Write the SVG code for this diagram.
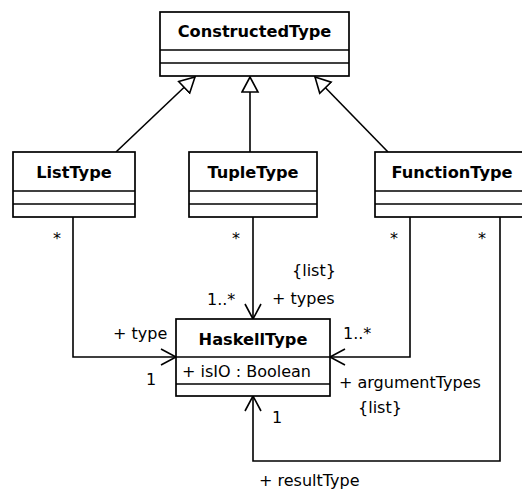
<svg xmlns="http://www.w3.org/2000/svg" width="522" height="491" viewBox="0 0 522 491">
<style>
.box{fill:#fff;stroke:#000;stroke-width:1.7}
.sep{stroke:#000;stroke-width:1.7}
.name{font-family:"DejaVu Sans",Verdana,sans-serif;font-weight:bold;font-size:16.2px;text-anchor:middle;fill:#000}
.lbl{font-family:"DejaVu Sans",Verdana,sans-serif;font-size:16px;fill:#000}
.con{fill:none;stroke:#000;stroke-width:1.6}
</style>
<defs>
<marker id="gen" markerWidth="20" markerHeight="20" refX="16" refY="9" orient="auto" markerUnits="userSpaceOnUse">
<path d="M1,1 L16,9 L1,17 Z" fill="#fff" stroke="#000" stroke-width="1.6"/>
</marker>
<marker id="open" markerWidth="20" markerHeight="20" refX="16" refY="9" orient="auto" markerUnits="userSpaceOnUse">
<path d="M1,1 L16,9 L1,17" fill="none" stroke="#000" stroke-width="1.6"/>
</marker>
</defs>
<g id="connectors">
<path class="con" d="M116,152 L195,77" marker-end="url(#gen)"/>
<path class="con" d="M250,152 L250,77" marker-end="url(#gen)"/>
<path class="con" d="M388,152 L315,77" marker-end="url(#gen)"/>
<path class="con" d="M73,217 L73,357 L176,357" marker-end="url(#open)"/>
<path class="con" d="M253,217 L253,319" marker-end="url(#open)"/>
<path class="con" d="M410,217 L410,357 L330,357" marker-end="url(#open)"/>
<path class="con" d="M500,217 L500,461 L253,461 L253,396" marker-end="url(#open)"/>
</g>
<g id="ConstructedType">
<rect class="box" x="160" y="12" width="189" height="64"/>
<line class="sep" x1="160" y1="50" x2="349" y2="50"/>
<line class="sep" x1="160" y1="63" x2="349" y2="63"/>
<text class="name" x="254.5" y="37">ConstructedType</text>
</g>
<g id="ListType">
<rect class="box" x="13" y="152" width="122" height="65"/>
<line class="sep" x1="13" y1="191" x2="135" y2="191"/>
<line class="sep" x1="13" y1="204" x2="135" y2="204"/>
<text class="name" x="74" y="178">ListType</text>
</g>
<g id="TupleType">
<rect class="box" x="189" y="152" width="128" height="65"/>
<line class="sep" x1="189" y1="191" x2="317" y2="191"/>
<line class="sep" x1="189" y1="204" x2="317" y2="204"/>
<text class="name" x="253" y="178">TupleType</text>
</g>
<g id="FunctionType">
<rect class="box" x="375" y="152" width="154" height="65"/>
<line class="sep" x1="375" y1="191" x2="529" y2="191"/>
<line class="sep" x1="375" y1="204" x2="529" y2="204"/>
<text class="name" x="452" y="178">FunctionType</text>
</g>
<g id="HaskellType">
<rect class="box" x="176" y="319" width="154" height="77"/>
<line class="sep" x1="176" y1="357" x2="330" y2="357"/>
<line class="sep" x1="176" y1="384" x2="330" y2="384"/>
<text class="name" x="253" y="345">HaskellType</text>
<text class="lbl" x="182" y="377">+ isIO : Boolean</text>
</g>
<g id="labels">
<text class="lbl" x="57" y="244" text-anchor="middle">*</text>
<text class="lbl" x="236" y="244" text-anchor="middle">*</text>
<text class="lbl" x="394" y="244" text-anchor="middle">*</text>
<text class="lbl" x="482" y="244" text-anchor="middle">*</text>
<text class="lbl" x="292" y="276">{list}</text>
<text class="lbl" x="272" y="304">+ types</text>
<text class="lbl" x="207" y="305">1..*</text>
<text class="lbl" x="113" y="339">+ type</text>
<text class="lbl" x="146" y="385">1</text>
<text class="lbl" x="343" y="339">1..*</text>
<text class="lbl" x="339" y="388">+ argumentTypes</text>
<text class="lbl" x="358" y="413">{list}</text>
<text class="lbl" x="272" y="423">1</text>
<text class="lbl" x="259" y="486">+ resultType</text>
</g>
</svg>
